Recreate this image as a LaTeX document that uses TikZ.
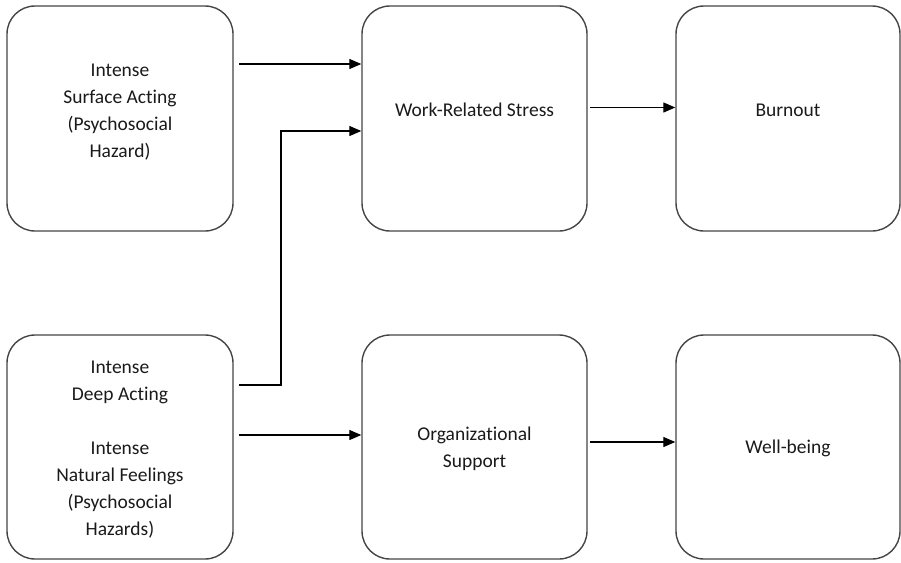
\documentclass[tikz,border=0pt]{standalone}
\usepackage{fontspec}
\setmainfont{Carlito}[Ligatures={NoCommon,NoRare}]
\usetikzlibrary{arrows.meta}
\definecolor{edge}{HTML}{454545}
\definecolor{ink}{HTML}{1A1A1A}
\tikzset{
  box/.style={draw=edge, line width=1.4pt, rounded corners=28pt, inner sep=0pt, fill=white},
  txt/.style={align=center, text=ink, font=\fontsize{19.5}{27}\selectfont},
  conn/.style={line width=1.3pt, -{Triangle[length=12pt,width=10pt]}},
}
\begin{document}
\begin{tikzpicture}[x=1pt,y=-1pt]
\useasboundingbox (0,0) rectangle (901,562);
\node[box, minimum width=226pt, minimum height=225pt] (b1) at (120,118.5) {};
\node[box, minimum width=225pt, minimum height=225pt] (b2) at (474.5,118.5) {};
\node[box, minimum width=224pt, minimum height=225pt] (b3) at (788,118.5) {};
\node[box, minimum width=226pt, minimum height=224pt] (b4) at (120,447) {};
\node[box, minimum width=225pt, minimum height=224pt] (b5) at (474.5,447) {};
\node[box, minimum width=224pt, minimum height=224pt] (b6) at (788,447) {};

\node[txt] (t1) at (120,112) {Intense\\Surface Acting\\(Psychosocial\\Hazard)};
\node[txt] (t2) at (474.5,110) {Work-Related Stress};
\node[txt] (t3) at (788,110) {Burnout};
\node[txt] (t4) at (120,450) {Intense\\Deep Acting\\[27pt]Intense\\Natural Feelings\\(Psychosocial\\Hazards)};
\node[txt] (t5) at (474.5,449) {Organizational\\Support};
\node[txt] (t6) at (788,448) {Well-being};

\coordinate (s1) at (239,64);
\coordinate (s2) at (239,385);
\coordinate (s3) at (239,435);
\coordinate (s4) at (590,107.5);
\coordinate (s5) at (590,442);
\coordinate (k) at (281,385);
\coordinate (k2) at (281,131);

\draw[conn] (s1) -- (s1 -| b2.west);
\draw[conn] (s2) -- (k) -- (k2) -- (k2 -| b2.west);
\draw[conn] (s3) -- (s3 -| b5.west);
\draw[conn] (s4) -- (s4 -| b3.west);
\draw[conn] (s5) -- (s5 -| b6.west);
\end{tikzpicture}
\end{document}
